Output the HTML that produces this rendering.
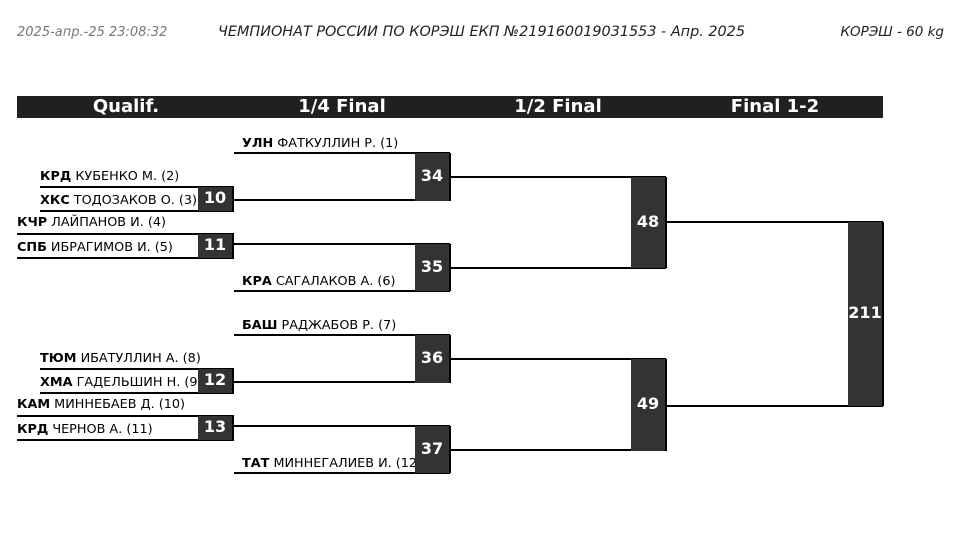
<!DOCTYPE html>
<html><head><meta charset="utf-8"><style>
body{margin:0;width:963px;height:534px;background:#fff;position:relative;overflow:hidden;font-family:"DejaVu Sans","Liberation Sans",sans-serif}
.t{position:absolute;font-style:italic;font-size:13px;color:#222;top:25px;white-space:nowrap}
.hb{position:absolute;left:17px;top:96px;width:866px;height:22px;background:#202020}
.h{position:absolute;top:96px;height:22px;line-height:22px;color:#fff;font-weight:bold;font-size:18px;text-align:center;width:140px}
.l{position:absolute;height:2px;background:#000}
.b{position:absolute;background:#333;border-right:2px solid #000;box-sizing:border-box;color:#fff;font-weight:bold;font-size:16px;display:flex;align-items:center;justify-content:center;z-index:2;padding-bottom:3px}
.n{position:absolute;font-size:12.8px;color:#000;white-space:nowrap;line-height:14px}
.n b{font-weight:bold}
</style></head><body>
<div class="t" style="left:17px;color:#777">2025-апр.-25 23:08:32</div>
<div class="t" style="left:218px;font-size:14.4px;top:24px">ЧЕМПИОНАТ РОССИИ ПО КОРЭШ ЕКП №219160019031553 - Апр. 2025</div>
<div class="t" style="right:19px;font-size:13.5px;top:24px">КОРЭШ - 60 kg</div>
<div class="hb"></div>
<div class="h" style="left:56px">Qualif.</div>
<div class="h" style="left:272px">1/4 Final</div>
<div class="h" style="left:488px">1/2 Final</div>
<div class="h" style="left:705px">Final 1-2</div>

<div class="l" style="left:234px;top:152px;width:216px"></div>
<div class="l" style="left:40px;top:186px;width:194px"></div>
<div class="l" style="left:233px;top:199px;width:217px"></div>
<div class="l" style="left:40px;top:210px;width:194px"></div>
<div class="l" style="left:17px;top:233px;width:217px"></div>
<div class="l" style="left:233px;top:243px;width:217px"></div>
<div class="l" style="left:17px;top:257px;width:217px"></div>
<div class="l" style="left:234px;top:290px;width:216px"></div>
<div class="l" style="left:450px;top:176px;width:216px"></div>
<div class="l" style="left:450px;top:267px;width:216px"></div>
<div class="l" style="left:666px;top:221px;width:217px"></div>
<div class="l" style="left:666px;top:405px;width:217px"></div>
<div class="l" style="left:234px;top:334px;width:216px"></div>
<div class="l" style="left:40px;top:368px;width:194px"></div>
<div class="l" style="left:233px;top:381px;width:217px"></div>
<div class="l" style="left:40px;top:392px;width:194px"></div>
<div class="l" style="left:17px;top:415px;width:217px"></div>
<div class="l" style="left:233px;top:425px;width:217px"></div>
<div class="l" style="left:17px;top:439px;width:217px"></div>
<div class="l" style="left:234px;top:472px;width:216px"></div>
<div class="l" style="left:450px;top:358px;width:216px"></div>
<div class="l" style="left:450px;top:449px;width:216px"></div>

<div class="b" style="left:415px;top:153px;width:36px;height:48px">34</div>
<div class="b" style="left:198px;top:187px;width:36px;height:24px">10</div>
<div class="b" style="left:198px;top:234px;width:36px;height:24px">11</div>
<div class="b" style="left:415px;top:244px;width:36px;height:47px">35</div>
<div class="b" style="left:631px;top:177px;width:36px;height:91px">48</div>
<div class="b" style="left:848px;top:222px;width:36px;height:184px">211</div>
<div class="b" style="left:415px;top:335px;width:36px;height:48px">36</div>
<div class="b" style="left:198px;top:369px;width:36px;height:24px">12</div>
<div class="b" style="left:198px;top:416px;width:36px;height:24px">13</div>
<div class="b" style="left:415px;top:426px;width:36px;height:47px">37</div>
<div class="b" style="left:631px;top:359px;width:36px;height:92px">49</div>

<div class="n" style="left:242px;top:137px"><b>УЛН</b> ФАТКУЛЛИН Р. (1)</div>
<div class="n" style="left:40px;top:170px"><b>КРД</b> КУБЕНКО М. (2)</div>
<div class="n" style="left:40px;top:194px"><b>ХКС</b> ТОДОЗАКОВ О. (3)</div>
<div class="n" style="left:17px;top:216px"><b>КЧР</b> ЛАЙПАНОВ И. (4)</div>
<div class="n" style="left:17px;top:241px"><b>СПБ</b> ИБРАГИМОВ И. (5)</div>
<div class="n" style="left:242px;top:275px"><b>КРА</b> САГАЛАКОВ А. (6)</div>
<div class="n" style="left:242px;top:319px"><b>БАШ</b> РАДЖАБОВ Р. (7)</div>
<div class="n" style="left:40px;top:352px"><b>ТЮМ</b> ИБАТУЛЛИН А. (8)</div>
<div class="n" style="left:40px;top:376px"><b>ХМА</b> ГАДЕЛЬШИН Н. (9)</div>
<div class="n" style="left:17px;top:398px"><b>КАМ</b> МИННЕБАЕВ Д. (10)</div>
<div class="n" style="left:17px;top:423px"><b>КРД</b> ЧЕРНОВ А. (11)</div>
<div class="n" style="left:242px;top:457px"><b>ТАТ</b> МИННЕГАЛИЕВ И. (12)</div>
</body></html>
